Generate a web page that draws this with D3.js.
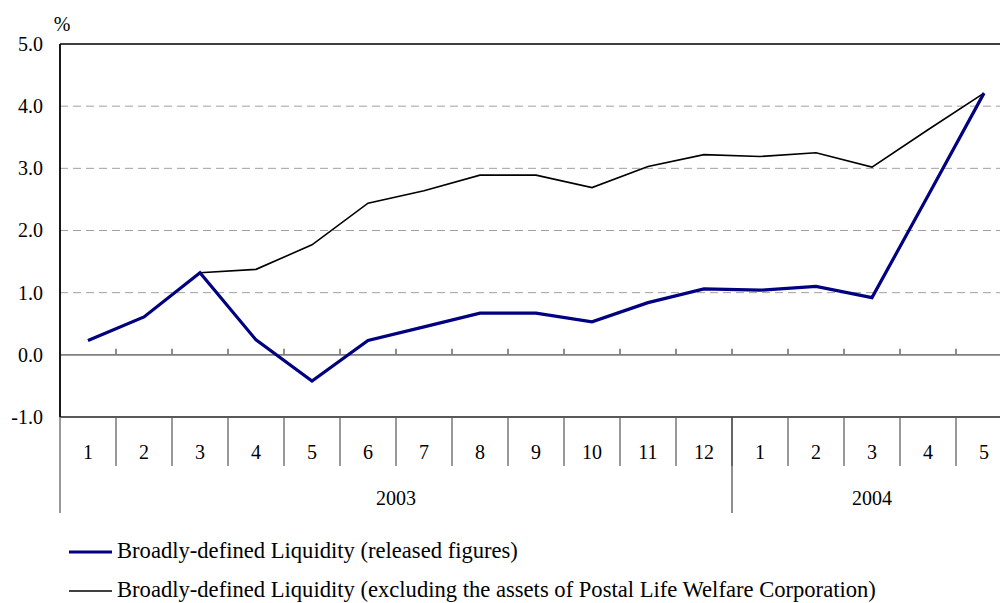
<!DOCTYPE html>
<html><head><meta charset="utf-8">
<script src="https://cdn.jsdelivr.net/npm/d3@7"></script>
<style>
html,body{margin:0;padding:0;background:#fff;}
svg{display:block;font-family:"Liberation Serif","Times New Roman",serif;}
</style></head>
<body><svg id="chart" width="1000" height="603"></svg>
<script>
const months = ["1","2","3","4","5","6","7","8","9","10","11","12","1","2","3","4","5"];
const years = [{label:"2003", count:12},{label:"2004", count:5}];
const released = [0.23,0.61,1.32,0.24,-0.42,0.23,0.45,0.67,0.67,0.53,0.84,1.06,1.04,1.10,0.92,2.56,4.21];
const excluding = [0.23,0.61,1.32,1.375,1.77,2.44,2.64,2.89,2.89,2.69,3.03,3.22,3.19,3.25,3.02,3.62,4.21];
const yTicks = [-1,0,1,2,3,4,5];
const seriesNames = ["Broadly-defined Liquidity (released figures)","Broadly-defined Liquidity (excluding the assets of Postal Life Welfare Corporation)"];

const svg = d3.select("#chart");
const pL = 60, pR = 1012, pT = 44, pB = 417;
const keys = months.map((m,i)=>i);
const x = d3.scaleBand().domain(keys).range([pL,pR]).padding(0);
const y = d3.scaleLinear().domain([-1,5]).range([pB,pT]);

// gridlines
svg.append("g").selectAll("line").data(yTicks.filter(d=>d>0 && d<5)).join("line")
  .attr("x1",pL).attr("x2",1000).attr("y1",d=>y(d)).attr("y2",d=>y(d))
  .attr("stroke","#a0a0a0").attr("stroke-width",1).attr("stroke-dasharray","8,5");

// top border
svg.append("line").attr("x1",pL).attr("x2",1000).attr("y1",y(5)).attr("y2",y(5)).attr("stroke","#000").attr("stroke-width",1.5);

// zero line with ticks
const zeroAxis = d3.axisTop(x).tickSize(6).tickFormat("").tickSizeOuter(0);
const zg = svg.append("g").attr("transform",`translate(0,${y(0)})`).call(zeroAxis);
zg.select(".domain").remove();
zg.selectAll(".tick line").attr("transform",`translate(${x.bandwidth()/2},0)`).attr("stroke","#444").attr("stroke-width",1.2);
zg.selectAll(".tick").filter((d,i)=>i===keys.length-1).remove();
svg.append("line").attr("x1",pL).attr("x2",1000).attr("y1",y(0)).attr("y2",y(0)).attr("stroke","#808080").attr("stroke-width",1.8);

// bottom line at -1
svg.append("line").attr("x1",pL).attr("x2",1000).attr("y1",y(-1)).attr("y2",y(-1)).attr("stroke","#222").attr("stroke-width",1.5);

// left axis
const yAxis = d3.axisLeft(y).tickValues(yTicks).tickFormat(d=>d3.format(".1f")(d).replace("\u2212","-")).tickSize(0).tickPadding(17);
const yg = svg.append("g").attr("transform",`translate(${pL},0)`).call(yAxis);
yg.select(".domain").remove();
yg.attr("font-family",null);
yg.selectAll(".tick text").attr("font-size",20).attr("fill","#000");
svg.append("line").attr("x1",pL).attr("x2",pL).attr("y1",y(5)).attr("y2",y(-1)).attr("stroke","#000").attr("stroke-width",1.8);
svg.append("line").attr("x1",pL).attr("x2",pL).attr("y1",y(-1)).attr("y2",513).attr("stroke","#777").attr("stroke-width",1.5);

svg.append("text").attr("x",62).attr("y",31).attr("font-size",20).attr("text-anchor","middle").text("%");

// category rows
const rowMid = 466;
svg.append("g").selectAll("line").data(keys.slice(1)).join("line")
  .attr("x1",d=>x(d)).attr("x2",d=>x(d)).attr("y1",pB).attr("y2",rowMid)
  .attr("stroke","#555").attr("stroke-width",1.2);
svg.append("g").selectAll("text").data(keys).join("text")
  .attr("x",d=>x(d)+x.bandwidth()/2).attr("y",459).attr("text-anchor","middle").attr("font-size",20)
  .text(d=>months[d]);

let start = 0;
years.forEach((yr,i)=>{
  const x0 = x(start), x1 = (start+yr.count<keys.length)? x(start+yr.count) : pR;
  if(i>0) svg.append("line").attr("x1",x0).attr("x2",x0).attr("y1",pB).attr("y2",513).attr("stroke","#444").attr("stroke-width",1.2);
  svg.append("text").attr("x",(x0+x1)/2).attr("y",505).attr("text-anchor","middle").attr("font-size",20).text(yr.label);
  start += yr.count;
});

// lines
const line = d3.line().x((d,i)=>x(i)+x.bandwidth()/2).y(d=>y(d));
svg.append("path").datum(excluding).attr("d",line).attr("fill","none").attr("stroke","#000").attr("stroke-width",1.6);
svg.append("path").datum(released).attr("d",line).attr("fill","none").attr("stroke","#000080").attr("stroke-width",3.2);

// legend
const leg = [{c:"#000080",w:3.2,y:552},{c:"#000",w:1.6,y:591}];
leg.forEach((l,i)=>{
  svg.append("line").attr("x1",69).attr("x2",112).attr("y1",l.y).attr("y2",l.y).attr("stroke",l.c).attr("stroke-width",l.w);
  svg.append("text").attr("x",117).attr("y",l.y+6).attr("font-size",22.6).text(seriesNames[i]);
});
</script></body></html>
